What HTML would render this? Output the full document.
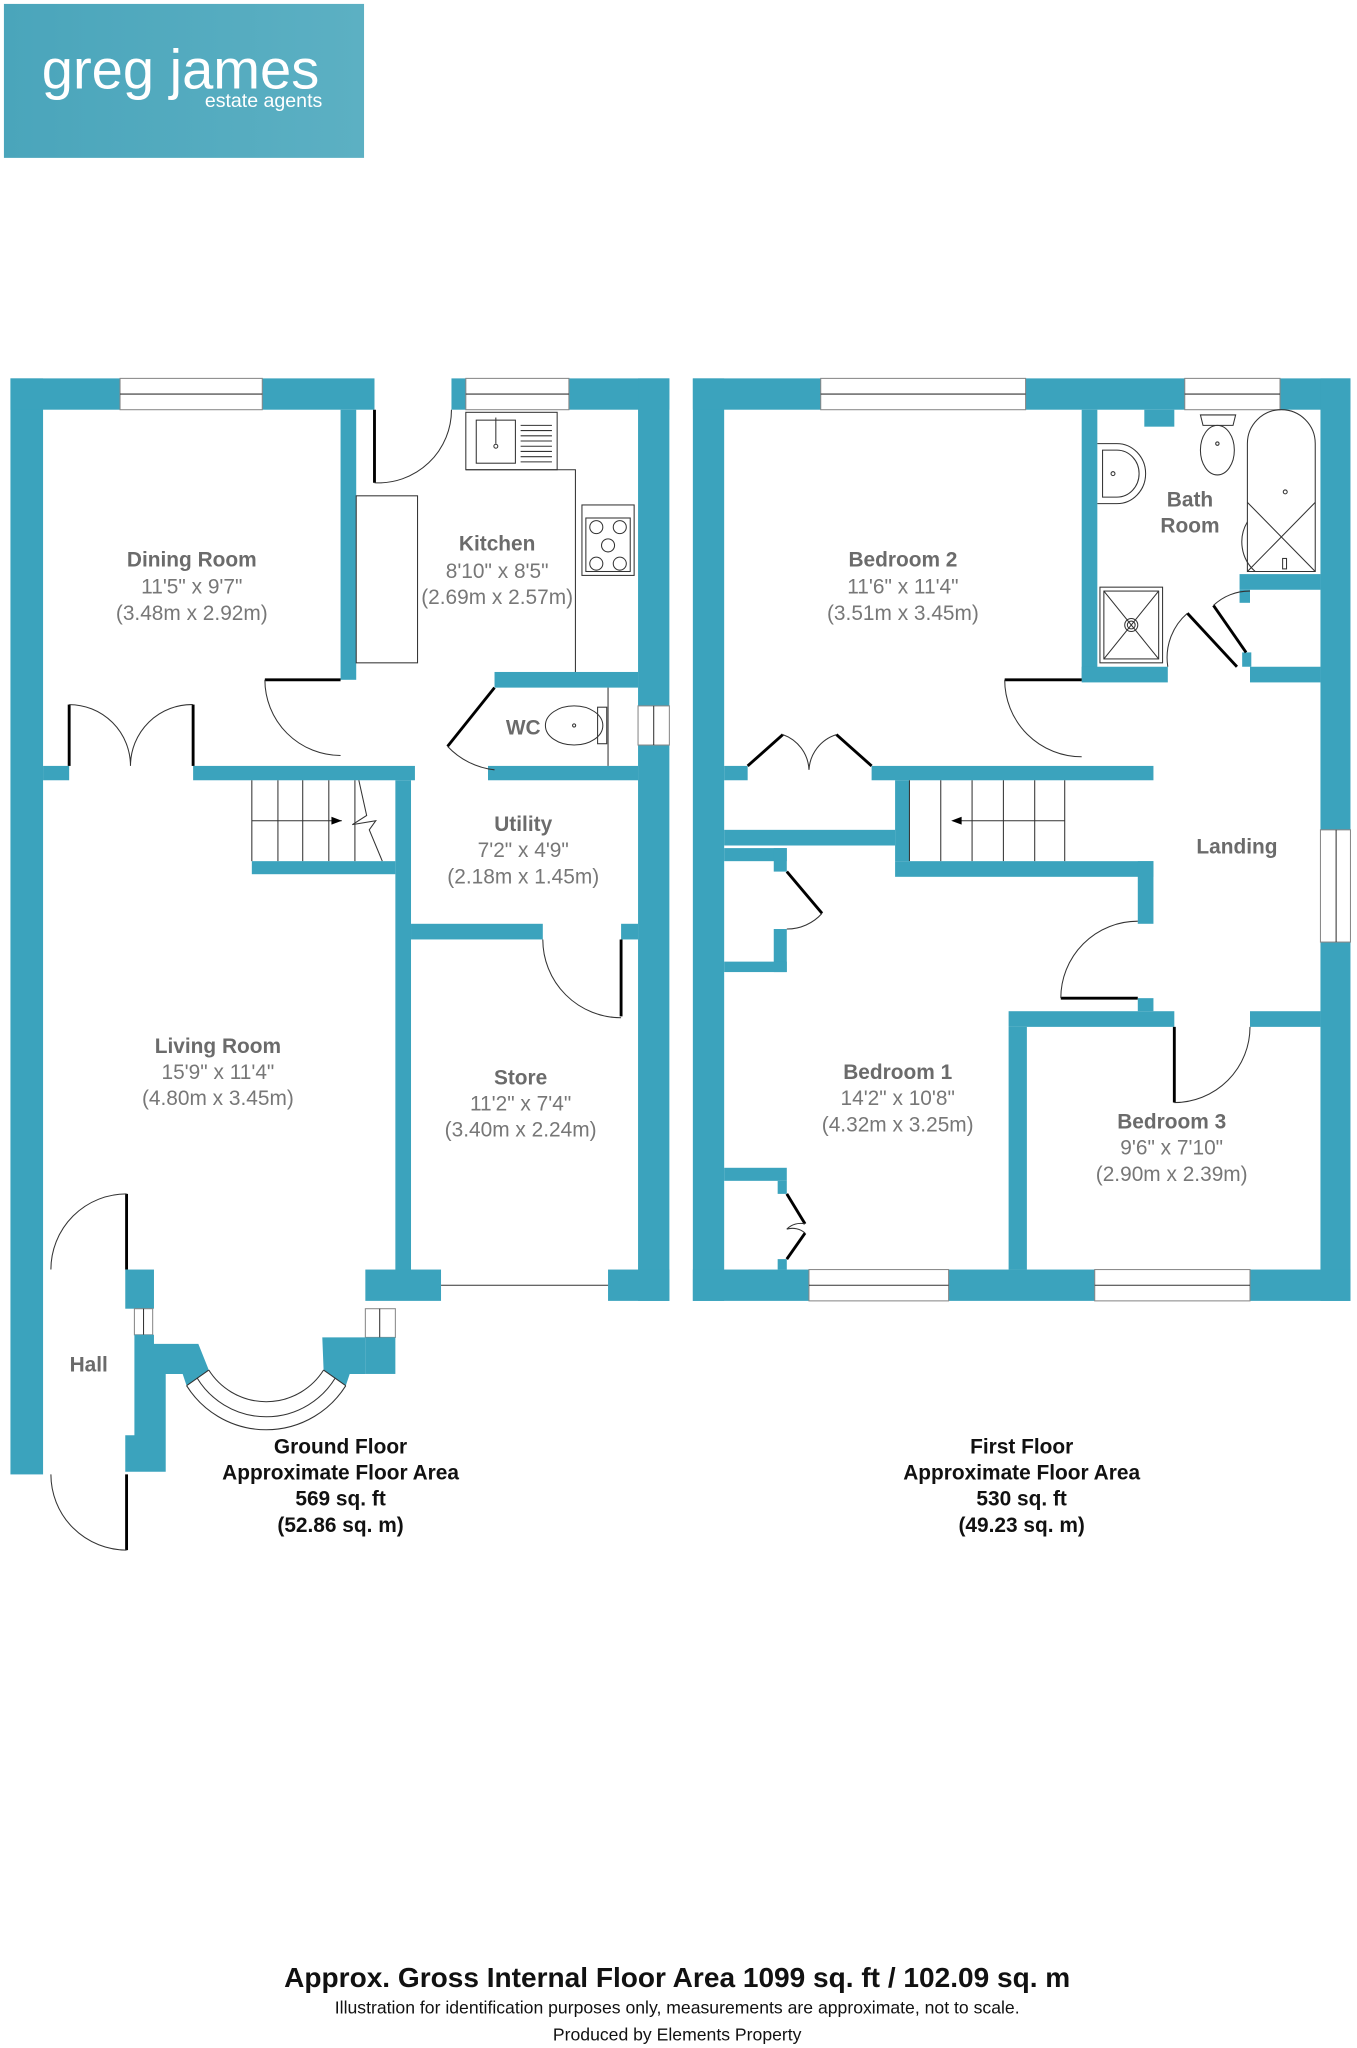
<!DOCTYPE html>
<html><head><meta charset="utf-8"><style>
html,body{margin:0;padding:0;background:#fff;}
svg{display:block;}
.w{fill:#3ba3bd;}
.win{fill:#fff;stroke:#888;stroke-width:0.8;}
.bl{stroke:#000;stroke-width:2.2;fill:none;}
.th{stroke:#333;stroke-width:0.8;fill:none;}
.rn{font-family:"Liberation Sans",Arial,sans-serif;font-weight:bold;font-size:16px;fill:#6b6b6b;text-anchor:middle;}
.dm{font-family:"Liberation Sans",Arial,sans-serif;font-size:16px;fill:#777;text-anchor:middle;}
.ft{font-family:"Liberation Sans",Arial,sans-serif;font-weight:bold;font-size:16px;fill:#111;text-anchor:middle;}
</style></head><body>
<svg width="1357" height="2048" viewBox="0 0 1040 1569.6" xmlns="http://www.w3.org/2000/svg">
<defs><linearGradient id="lg" x1="0" y1="0" x2="1" y2="0"><stop offset="0" stop-color="#4aa5bb"/><stop offset="1" stop-color="#5cb0c3"/></linearGradient></defs>
<rect x="3" y="3" width="276" height="118" fill="url(#lg)"/>
<text x="32" y="68" font-family="Liberation Sans,Arial,sans-serif" font-size="43" fill="#fff">greg james</text>
<text x="247" y="82" font-family="Liberation Sans,Arial,sans-serif" font-size="15" fill="#fff" text-anchor="end">estate agents</text>

<!-- GROUND FLOOR -->
<rect class="w" x="8" y="290" width="25" height="840"/>
<rect class="w" x="8" y="290" width="279" height="24"/>
<rect class="win" x="92" y="290" width="109" height="24"/><line class="th" x1="92" y1="302" x2="201" y2="302"/>
<rect class="w" x="346" y="290" width="167" height="24"/>
<rect class="win" x="357" y="290" width="79" height="24"/><line class="th" x1="357" y1="302" x2="436" y2="302"/>
<rect class="w" x="489" y="290" width="24" height="707"/>
<rect class="win" x="489" y="541" width="24" height="30"/><line class="th" x1="501" y1="541" x2="501" y2="571"/>
<rect class="w" x="261" y="314" width="12" height="207"/>
<rect class="w" x="33" y="587" width="20" height="11"/>
<rect class="w" x="148" y="587" width="170" height="11"/>
<rect class="th" x="273" y="380" width="47" height="128"/>
<line class="bl" x1="203" y1="521" x2="261" y2="521"/>
<path class="th" d="M203 521 A58 58 0 0 0 261 579"/>
<line class="bl" x1="287" y1="314" x2="287" y2="370"/>
<path class="th" d="M287 370 A56 56 0 0 0 346 314"/>
<line class="bl" x1="53" y1="540" x2="53" y2="587"/><line class="bl" x1="148" y1="540" x2="148" y2="587"/>
<path class="th" d="M53 540 A47 47 0 0 1 100 587 M148 540 A47 47 0 0 0 100 587"/>
<!-- sink -->
<rect class="th" x="357" y="316" width="70" height="44"/>
<rect class="th" x="365" y="322" width="30" height="33"/>
<line class="th" x1="380" y1="320" x2="380" y2="340"/><circle class="th" cx="380" cy="342" r="1.5"/>
<g class="th"><line x1="399" y1="326" x2="423" y2="326"/><line x1="399" y1="330" x2="423" y2="330"/><line x1="399" y1="334" x2="423" y2="334"/><line x1="399" y1="338" x2="423" y2="338"/><line x1="399" y1="342" x2="423" y2="342"/><line x1="399" y1="346" x2="423" y2="346"/><line x1="399" y1="350" x2="423" y2="350"/><line x1="399" y1="354" x2="423" y2="354"/></g>
<polyline class="th" points="357,360 441,360 441,525"/>
<rect class="th" x="446" y="387" width="40" height="54"/>
<rect class="th" x="449" y="397" width="34" height="41"/>
<g class="th"><circle cx="457" cy="404" r="5"/><circle cx="475" cy="404" r="5"/><circle cx="466" cy="418" r="5"/><circle cx="457" cy="432" r="5"/><circle cx="475" cy="432" r="5"/></g>
<!-- WC -->
<rect class="w" x="379" y="515" width="110" height="12"/>
<rect class="w" x="374" y="587" width="115" height="11"/>
<line class="bl" x1="379" y1="527" x2="343" y2="572"/>
<path class="th" d="M343 572 A58 58 0 0 0 379 590"/>
<ellipse class="th" cx="440" cy="556" rx="22" ry="15"/>
<rect class="th" x="458" y="542" width="7" height="28"/>
<line class="th" x1="466" y1="527" x2="466" y2="587"/><circle class="th" cx="440" cy="556" r="1.2"/>
<!-- stairs -->
<g class="th"><line x1="193" y1="598" x2="193" y2="660"/><line x1="213" y1="598" x2="213" y2="660"/><line x1="232" y1="598" x2="232" y2="660"/><line x1="252" y1="598" x2="252" y2="660"/><line x1="272" y1="598" x2="272" y2="660"/><line x1="193" y1="629" x2="262" y2="629"/><polyline points="275,598 281,625 270,632 288,629 283,636 293,660"/></g>
<polygon points="262,629 254,626 254,632" fill="#000"/>
<rect class="w" x="193" y="660" width="110" height="10"/>
<rect class="w" x="303" y="598" width="12" height="387"/>
<rect class="w" x="315" y="708" width="101" height="12"/>
<rect class="w" x="476" y="708" width="13" height="12"/>
<line class="bl" x1="476" y1="720" x2="476" y2="779"/>
<path class="th" d="M416 720 A60 60 0 0 0 476 780"/>
<rect class="w" x="280" y="973" width="58" height="24"/>
<rect class="w" x="466" y="973" width="47" height="24"/>
<line class="th" x1="338" y1="985" x2="466" y2="985"/>
<!-- bay -->
<rect class="win" x="280" y="1003" width="23" height="22"/><line class="th" x1="291" y1="1003" x2="291" y2="1025"/>
<rect class="w" x="280" y="1025" width="23" height="28"/>
<polygon class="w" points="247,1025 280,1025 280,1053 268,1053 265,1062 248,1050"/>
<rect class="w" x="96" y="973" width="22" height="30"/>
<rect class="win" x="103" y="1003" width="14" height="20"/><line class="th" x1="110" y1="1003" x2="110" y2="1023"/>
<polygon class="w" points="103,1023 118,1023 118,1030 152,1030 160,1050 143,1062 140,1053 127,1053 127,1128 96,1128 96,1100 103,1100"/>
<path class="th" d="M160 1050 A52 52 0 0 0 248 1050 M151 1056 A62 62 0 0 0 257 1056 M143 1062 A72 72 0 0 0 265 1062"/>
<line class="th" x1="160" y1="1050" x2="143" y2="1062"/><line class="th" x1="248" y1="1050" x2="265" y2="1062"/>
<line class="bl" x1="97" y1="915" x2="97" y2="973"/>
<path class="th" d="M97 915 A58 58 0 0 0 39 973"/>
<line class="bl" x1="97" y1="1130" x2="97" y2="1188"/>
<path class="th" d="M39 1130 A58 58 0 0 0 97 1188"/>

<text class="rn" x="147" y="434">Dining Room</text><text class="dm" x="147" y="455">11'5" x 9'7"</text><text class="dm" x="147" y="475">(3.48m x 2.92m)</text>
<text class="rn" x="381" y="422">Kitchen</text><text class="dm" x="381" y="443">8'10" x 8'5"</text><text class="dm" x="381" y="463">(2.69m x 2.57m)</text>
<text class="rn" x="401" y="563">WC</text>
<text class="rn" x="401" y="637">Utility</text><text class="dm" x="401" y="657">7'2" x 4'9"</text><text class="dm" x="401" y="677">(2.18m x 1.45m)</text>
<text class="rn" x="167" y="807">Living Room</text><text class="dm" x="167" y="827">15'9" x 11'4"</text><text class="dm" x="167" y="847">(4.80m x 3.45m)</text>
<text class="rn" x="399" y="831">Store</text><text class="dm" x="399" y="851">11'2" x 7'4"</text><text class="dm" x="399" y="871">(3.40m x 2.24m)</text>
<text class="rn" x="68" y="1051">Hall</text>
<text class="ft" x="261" y="1114">Ground Floor</text><text class="ft" x="261" y="1134">Approximate Floor Area</text><text class="ft" x="261" y="1154">569 sq. ft</text><text class="ft" x="261" y="1174">(52.86 sq. m)</text>

<!-- FIRST FLOOR -->
<rect class="w" x="531" y="290" width="24" height="707"/>
<rect class="w" x="531" y="290" width="504" height="24"/>
<rect class="win" x="629" y="290" width="157" height="24"/><line class="th" x1="629" y1="302" x2="786" y2="302"/>
<rect class="win" x="908" y="290" width="73" height="24"/><line class="th" x1="908" y1="302" x2="981" y2="302"/>
<rect class="w" x="1012" y="290" width="23" height="707"/>
<rect class="win" x="1012" y="636" width="23" height="86"/><line class="th" x1="1024" y1="636" x2="1024" y2="722"/>
<rect class="w" x="531" y="973" width="504" height="24"/>
<rect class="win" x="620" y="973" width="107" height="24"/><line class="th" x1="620" y1="985" x2="727" y2="985"/>
<rect class="win" x="839" y="973" width="119" height="24"/><line class="th" x1="839" y1="985" x2="958" y2="985"/>
<rect class="w" x="829" y="314" width="12" height="207"/>
<rect class="w" x="829" y="511" width="66" height="12"/>
<rect class="w" x="958" y="511" width="54" height="12"/>
<rect class="w" x="877" y="314" width="23" height="13"/>
<rect class="w" x="950" y="440" width="62" height="12"/>
<rect class="w" x="950" y="452" width="8" height="10"/>
<rect class="w" x="952" y="500" width="7" height="11"/>
<!-- bath fixtures -->
<path class="th" d="M956 438 L956 340 A26 26 0 0 1 1008 340 L1008 438 Z"/>
<path class="th" d="M956 438 L1008 385 M1008 438 L956 385 M962 438 A30 30 0 0 1 956 400"/>
<circle class="th" cx="985" cy="377" r="1.5"/><rect class="th" x="983" y="428" width="3" height="8"/>
<rect class="th" x="843" y="450" width="48" height="58"/><rect class="th" x="846" y="453" width="42" height="52"/>
<path class="th" d="M846 453 L888 505 M888 453 L846 505"/><circle class="th" cx="867" cy="479" r="5"/><circle class="th" cx="867" cy="479" r="3"/>
<path class="th" d="M841 340 L856 340 A22 23 0 0 1 856 386 L841 386"/><path class="th" d="M845 345 L856 345 A17 18 0 0 1 856 381 L845 381 Z"/><circle class="th" cx="853" cy="363" r="1.5"/>
<path class="th" d="M920 318 L947 318 L945 326 L922 326 Z"/>
<ellipse class="th" cx="933" cy="345" rx="13" ry="19"/><circle class="th" cx="933" cy="340" r="1.3"/>
<line class="bl" x1="910" y1="470" x2="948" y2="511"/>
<path class="th" d="M895 511 A45 45 0 0 1 910 470"/>
<line class="bl" x1="930" y1="464" x2="955" y2="500"/>
<path class="th" d="M930 464 A40 40 0 0 1 958 453"/>
<!-- bed2 -->
<line class="bl" x1="770" y1="521" x2="829" y2="521"/>
<path class="th" d="M770 521 A59 59 0 0 0 829 580"/>
<rect class="w" x="555" y="587" width="18" height="11"/>
<rect class="w" x="668" y="587" width="216" height="11"/>
<line class="bl" x1="573" y1="587" x2="600" y2="563"/><line class="bl" x1="668" y1="587" x2="641" y2="563"/>
<path class="th" d="M600 563 A30 30 0 0 1 620 590 M641 563 A30 30 0 0 0 620 590"/>
<rect class="w" x="686" y="598" width="11" height="62"/>
<rect class="w" x="555" y="636" width="131" height="12"/>
<g class="th"><line x1="697" y1="598" x2="697" y2="660"/><line x1="721" y1="598" x2="721" y2="660"/><line x1="745" y1="598" x2="745" y2="660"/><line x1="769" y1="598" x2="769" y2="660"/><line x1="793" y1="598" x2="793" y2="660"/><line x1="816" y1="598" x2="816" y2="660"/><line x1="736" y1="629" x2="816" y2="629"/></g>
<polygon points="729,629 737,626 737,632" fill="#000"/>
<rect class="w" x="686" y="660" width="198" height="12"/>
<rect class="w" x="872" y="660" width="12" height="48"/>
<!-- bed1 cupboards -->
<rect class="w" x="555" y="650" width="48" height="10"/>
<rect class="w" x="593" y="650" width="10" height="18"/>
<rect class="w" x="593" y="712" width="10" height="33"/>
<rect class="w" x="555" y="737" width="48" height="8"/>
<line class="bl" x1="603" y1="668" x2="630" y2="700"/><path class="th" d="M630 700 A36 36 0 0 1 603 712"/>
<rect class="w" x="555" y="895" width="48" height="10"/>
<rect class="w" x="596" y="905" width="7" height="10"/>
<rect class="w" x="596" y="965" width="7" height="8"/>
<polyline class="bl" points="603,915 617,938"/><polyline class="bl" points="617,945 603,965"/>
<path class="th" d="M617 938 A15 15 0 0 0 603 942 A15 15 0 0 1 617 945"/>
<!-- landing/bed1 door -->
<line class="bl" x1="813" y1="765" x2="872" y2="765"/>
<path class="th" d="M872 706 A59 59 0 0 0 813 765"/>
<rect class="w" x="872" y="765" width="12" height="10"/>
<rect class="w" x="773" y="775" width="127" height="12"/>
<rect class="w" x="958" y="775" width="54" height="12"/>
<rect class="w" x="773" y="787" width="14" height="186"/>
<line class="bl" x1="900" y1="787" x2="900" y2="845"/>
<path class="th" d="M900 845 A58 58 0 0 0 958 787"/>

<text class="rn" x="692" y="434">Bedroom 2</text><text class="dm" x="692" y="455">11'6" x 11'4"</text><text class="dm" x="692" y="475">(3.51m x 3.45m)</text>
<text class="rn" x="912" y="388">Bath</text><text class="rn" x="912" y="408">Room</text>
<text class="rn" x="948" y="654">Landing</text>
<text class="rn" x="688" y="827">Bedroom 1</text><text class="dm" x="688" y="847">14'2" x 10'8"</text><text class="dm" x="688" y="867">(4.32m x 3.25m)</text>
<text class="rn" x="898" y="865">Bedroom 3</text><text class="dm" x="898" y="885">9'6" x 7'10"</text><text class="dm" x="898" y="905">(2.90m x 2.39m)</text>
<text class="ft" x="783" y="1114">First Floor</text><text class="ft" x="783" y="1134">Approximate Floor Area</text><text class="ft" x="783" y="1154">530 sq. ft</text><text class="ft" x="783" y="1174">(49.23 sq. m)</text>

<text x="519" y="1523" font-family="Liberation Sans,Arial,sans-serif" font-weight="bold" font-size="21.5" fill="#111" text-anchor="middle">Approx. Gross Internal Floor Area 1099 sq. ft / 102.09 sq. m</text>
<text x="519" y="1543" font-family="Liberation Sans,Arial,sans-serif" font-size="13.5" fill="#111" text-anchor="middle">Illustration for identification purposes only, measurements are approximate, not to scale.</text>
<text x="519" y="1564" font-family="Liberation Sans,Arial,sans-serif" font-size="13.5" fill="#111" text-anchor="middle">Produced by Elements Property</text>
</svg>
</body></html>
